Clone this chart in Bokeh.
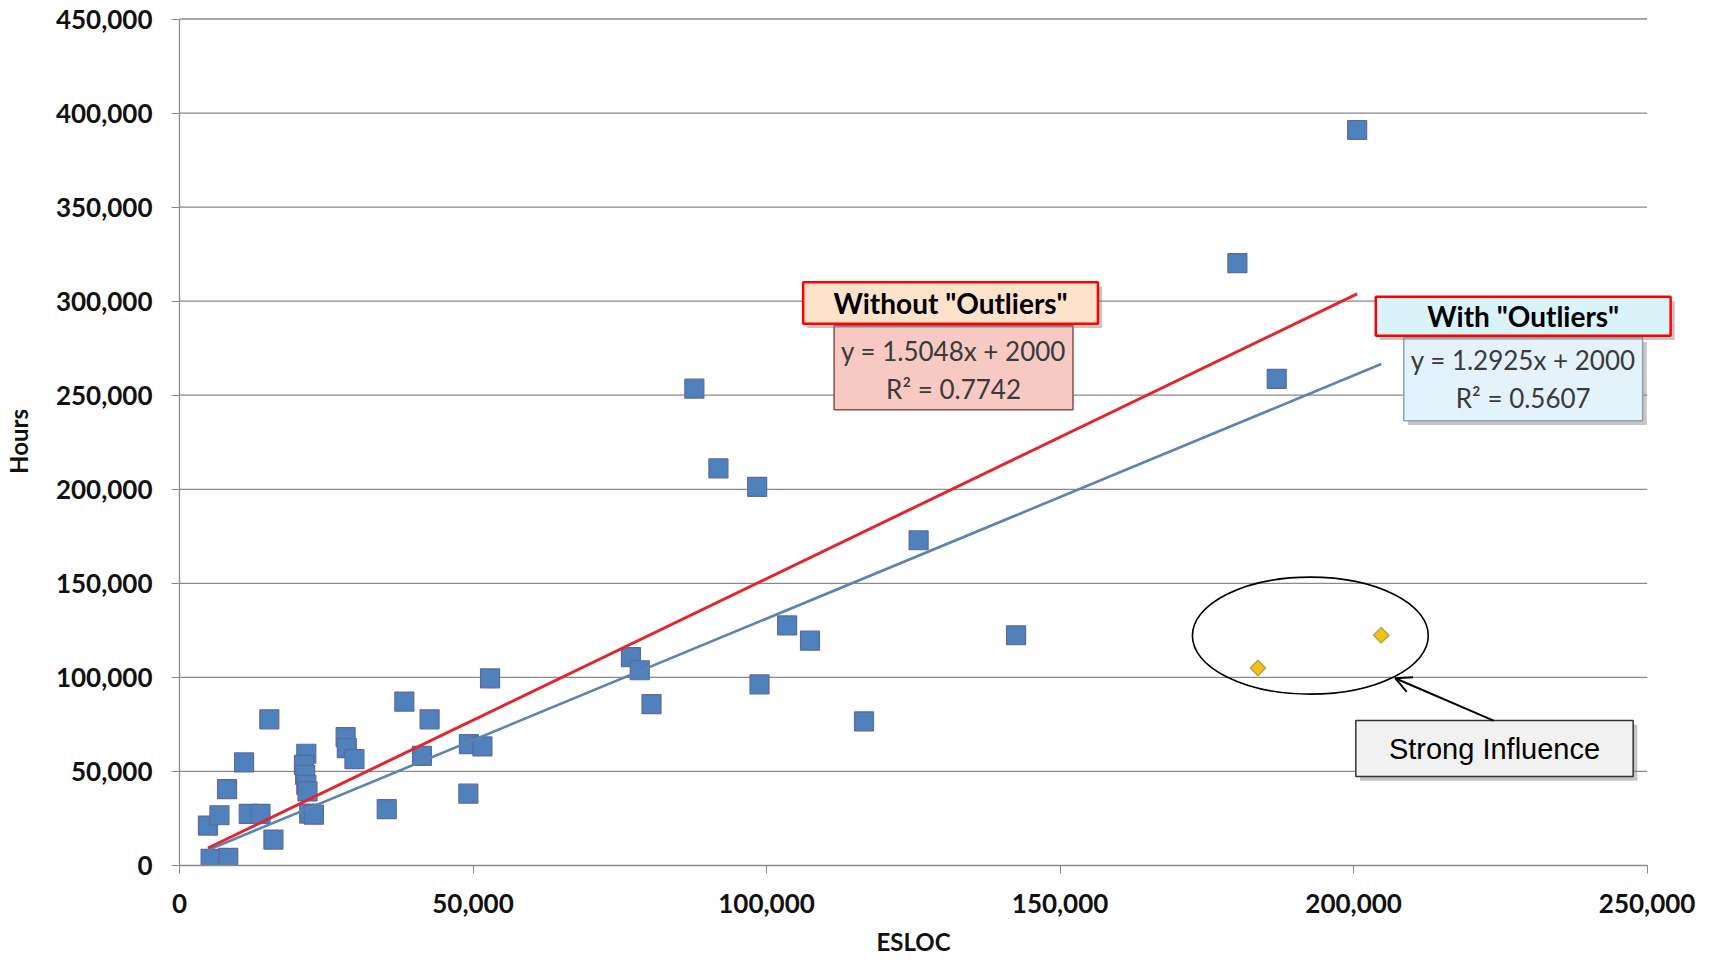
from bokeh.plotting import figure
from bokeh.models import Range1d, FixedTicker, NumeralTickFormatter, Arrow, OpenHead, Title
from bokeh.embed import file_html
from bokeh.resources import INLINE
from bokeh.core.properties import value

# ---------------- data ----------------
esloc = [4850, 5300, 8300, 6800, 8100, 11000, 11800, 13800, 15300, 16000,
         21600, 21200, 21400, 21600, 21800, 22100, 22900, 28300, 28500, 29800,
         35300, 38300, 41300, 42600, 49200, 49300, 51600, 52900,
         76900, 78400, 80400, 87700, 91800, 98400, 98800, 103500, 107400,
         116600, 125900, 142500, 180200, 186900, 200600]
hours = [21200, 3500, 4100, 26700, 40600, 54800, 27400, 27400, 77700, 13800,
         59400, 53500, 48200, 42900, 39400, 27600, 27000, 68200, 62400, 56500,
         30000, 87100, 58300, 77700, 38200, 64500, 63300, 99500,
         110800, 103800, 85800, 253500, 211100, 201300, 96300, 127600, 119500,
         76600, 172900, 122400, 320200, 258700, 391000]
outlier_esloc = [183700, 204700]
outlier_hours = [105000, 122400]

slope_without, slope_with, intercept = 1.5048, 1.2925, 2000
r2_without, r2_with = 0.7742, 0.5607

x_ticks = [0, 50000, 100000, 150000, 200000, 250000]
y_ticks = [0, 50000, 100000, 150000, 200000, 250000, 300000, 350000, 400000, 450000]

x_label = "ESLOC"
y_label = "Hours"
title_without = 'Without "Outliers"'
title_with = 'With "Outliers"'
eq_without = "y = %.4fx + %d" % (slope_without, intercept)
eq_with = "y = %.4fx + %d" % (slope_with, intercept)
r2_text_without = "R\u00b2 = %.4f" % r2_without
r2_text_with = "R\u00b2 = %.4f" % r2_with
influence_text = "Strong Influence"

# ---------------- layout (annotation placement) ----------------
X_END = 255000
Y_END = 450800
SDX, SDY = 700, -2200  # shadow offset in data units

box_without = (106231, 156452, 287961, 310010)
box_eq_without = (111508, 152196, 242270, 286898)
box_with = (203779, 254001, 281585, 302306)
box_eq_with = (208546, 249234, 236426, 280523)
box_influence = (200375, 247617, 47285, 77037)

p = figure(width=1711, height=964, output_backend="svg", toolbar_location=None,
           x_range=Range1d(0, X_END), y_range=Range1d(0, Y_END),
           min_border_left=178, min_border_right=35, min_border_top=17,
           min_border_bottom=99, background_fill_color="white",
           border_fill_color="white")
p.outline_line_color = None
p.xgrid.visible = False
p.ygrid.visible = False

AX_COLOR = "#8a8a8a"
for ax in (p.xaxis[0], p.yaxis[0]):
    ax.axis_line_color = AX_COLOR
    ax.axis_line_width = 1.3
    ax.major_tick_line_color = AX_COLOR
    ax.major_tick_out = 8
    ax.major_tick_in = 0
    ax.minor_tick_line_color = None
    ax.major_label_text_font = "Lato"
    ax.major_label_text_font_style = "bold"
    ax.major_label_text_font_size = "26px"
    ax.major_label_text_color = "#111111"
    ax.formatter = NumeralTickFormatter(format="0,0")
    ax.axis_label_text_font = "Lato"
    ax.axis_label_text_font_style = "bold"
    ax.axis_label_text_font_size = "24px"
    ax.axis_label_text_color = "#111111"

p.xaxis.ticker = FixedTicker(ticks=x_ticks)
p.yaxis.ticker = FixedTicker(ticks=y_ticks)
p.xaxis.bounds = (x_ticks[0], x_ticks[-1])
p.yaxis.bounds = (y_ticks[0], y_ticks[-1])
p.xaxis.major_label_standoff = 20
p.yaxis.major_label_standoff = 19
p.yaxis.axis_label = y_label
p.yaxis.axis_label_standoff = 20

# x axis title, centred under the 0..250,000 axis span
p.add_layout(Title(text=x_label, align="left", offset=697, standoff=18,
                   text_font="Lato", text_font_style="bold", text_font_size="24px",
                   text_color="#111111"), "below")

# horizontal gridlines (limited to the axis span)
p.segment(x0=[x_ticks[0]] * len(y_ticks[1:]), x1=[x_ticks[-1]] * len(y_ticks[1:]),
          y0=y_ticks[1:], y1=y_ticks[1:], line_color=AX_COLOR, line_width=1.3)

# scatter points
p.scatter(esloc, hours, marker="square", size=19, fill_color="#4F81BD",
          line_color="#5d6a9c", line_width=1.2)
p.scatter(outlier_esloc, outlier_hours, marker="square", size=11, angle=0.785398,
          fill_color="#F4C20D", line_color="#B59A5A", line_width=1.2)

# trend lines
xs_without = [min(esloc), max(esloc)]
xs_with = [min(esloc + outlier_esloc), max(esloc + outlier_esloc)]
p.line(xs_with, [slope_with * x + intercept for x in xs_with],
       line_color="#5B84B1", line_width=2.6)
p.line(xs_without, [slope_without * x + intercept for x in xs_without],
       line_color="#E3262E", line_width=3)


def box(b, fill, line, lw, shadow=True):
    x0, x1, y0, y1 = b
    if shadow:
        p.quad(left=x0 + SDX, right=x1 + SDX, bottom=y0 + SDY, top=y1 + SDY,
               fill_color="#7f7f7f", fill_alpha=0.45, line_color=None)
    p.quad(left=x0, right=x1, bottom=y0, top=y1, fill_color=fill,
           line_color=line, line_width=lw)


def txt(x, y, t, size, bold=False, color="#222222", font="Lato"):
    p.text(x=[x], y=[y], text=[t], text_font=value(font),
           text_font_size=size, text_font_style="bold" if bold else "normal",
           text_color=color, text_align="center", text_baseline="middle")


# equation boxes
box(box_eq_without, "#F6C9C3", "#8B4D4D", 1.5, shadow=False)
box(box_eq_with, "#E3F2FB", "#8EA2B2", 1.5)
txt((box_eq_without[0] + box_eq_without[1]) / 2, 273456, eq_without, "26px", color="#3a3a3a")
txt((box_eq_without[0] + box_eq_without[1]) / 2, 253161, r2_text_without, "26px", color="#3a3a3a")
txt((box_eq_with[0] + box_eq_with[1]) / 2, 268834, eq_with, "26px", color="#3a3a3a")
txt((box_eq_with[0] + box_eq_with[1]) / 2, 248539, r2_text_with, "26px", color="#3a3a3a")

# title boxes
box(box_without, "#FDE2CC", "#FF0000", 2.5)
box(box_with, "#DAF2FA", "#FF0000", 2.5)
txt((box_without[0] + box_without[1]) / 2, (box_without[2] + box_without[3]) / 2,
    title_without, "28px", bold=True, color="#000000")
txt((box_with[0] + box_with[1]) / 2, (box_with[2] + box_with[3]) / 2,
    title_with, "28px", bold=True, color="#000000")

# strong influence annotation
p.ellipse(x=[192629], y=[122197], width=[40174], height=[62162],
          fill_color=None, line_color="#000000", line_width=1.6)
p.add_layout(Arrow(end=OpenHead(size=16, line_width=2, line_color="#000000"),
                   x_start=223850, y_start=77037, x_end=207081, y_end=99565,
                   line_width=2, line_color="#000000"))
box(box_influence, "#F1F1F1", "#333333", 1.5)
txt((box_influence[0] + box_influence[1]) / 2, (box_influence[2] + box_influence[3]) / 2,
    influence_text, "29px", color="#000000", font="Liberation Sans")

open("out.html", "w").write(file_html(p, INLINE))
